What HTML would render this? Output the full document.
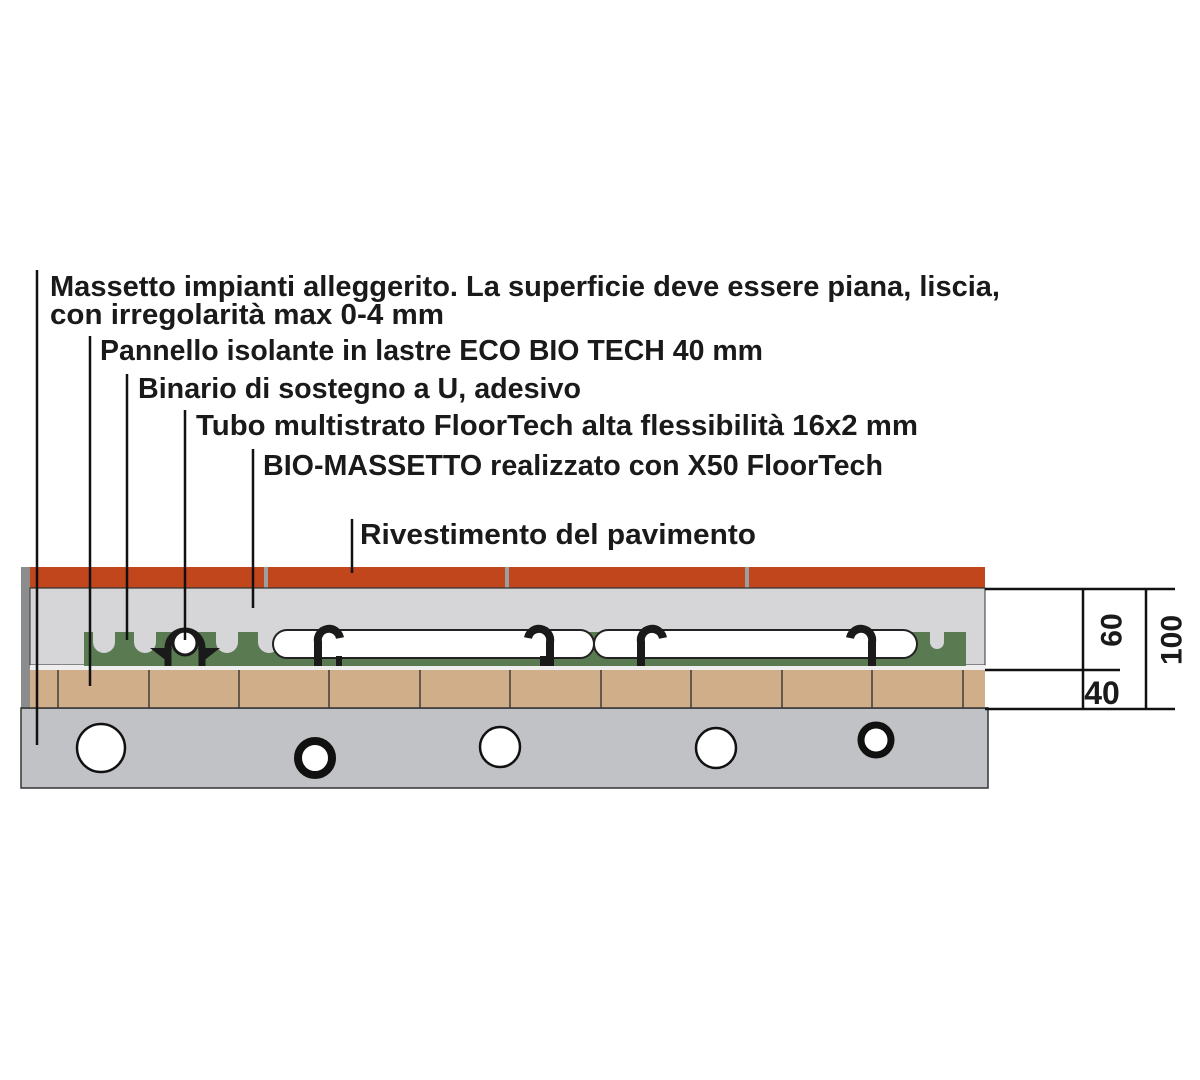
<!DOCTYPE html>
<html><head><meta charset="utf-8"><style>
html,body{margin:0;padding:0;background:#fff;width:1200px;height:1080px;overflow:hidden}
svg text{font-family:"Liberation Sans Narrow","Liberation Sans",sans-serif;font-weight:bold;fill:#1a1a1a}
</style></head><body>
<svg width="1200" height="1080" viewBox="0 0 1200 1080" xmlns="http://www.w3.org/2000/svg">
<rect x="21" y="708" width="967" height="80" fill="#c1c2c5" stroke="#333" stroke-width="1.5"/>
<rect x="21" y="567" width="9" height="141" fill="#8a8c8e"/>
<rect x="30" y="588" width="955" height="77" fill="#d6d6d8" stroke="#333" stroke-width="1"/>
<rect x="30" y="665" width="955" height="5" fill="#eeeeee"/>
<rect x="30" y="567" width="955" height="21" fill="#c2461c"/>
<g fill="#9a9fa3"><rect x="264" y="567" width="4" height="21"/><rect x="505" y="567" width="4" height="21"/><rect x="745" y="567" width="4" height="21"/></g>
<line x1="30" y1="588" x2="985" y2="588" stroke="#333" stroke-width="1.2"/>
<rect x="30" y="670" width="955" height="38" fill="#cfae89"/>
<g stroke="#2a2a2a" stroke-width="1.3">
<line x1="58" y1="670" x2="58" y2="708"/><line x1="149" y1="670" x2="149" y2="708"/><line x1="239" y1="670" x2="239" y2="708"/><line x1="329" y1="670" x2="329" y2="708"/><line x1="420" y1="670" x2="420" y2="708"/><line x1="510" y1="670" x2="510" y2="708"/><line x1="601" y1="670" x2="601" y2="708"/><line x1="691" y1="670" x2="691" y2="708"/><line x1="782" y1="670" x2="782" y2="708"/><line x1="872" y1="670" x2="872" y2="708"/><line x1="963" y1="670" x2="963" y2="708"/>
</g>
<line x1="21" y1="708" x2="988" y2="708" stroke="#333" stroke-width="1.5"/>
<rect x="84" y="632" width="882" height="34" fill="#5a7a52"/>
<g fill="#d6d6d8">
<path d="M93 632 h22 v10 a11 11 0 0 1 -22 0 z"/>
<path d="M134 632 h22 v10 a11 11 0 0 1 -22 0 z"/>
<path d="M216 632 h22 v10 a11 11 0 0 1 -22 0 z"/>
<path d="M258 632 h22 v10 a11 11 0 0 1 -22 0 z"/>
<path d="M930 632 h14 v10 a7 7 0 0 1 -14 0 z"/>
</g>
<g fill="#fff" stroke="#222" stroke-width="2">
<path d="M287 630 H580 A14 14 0 0 1 580 658 H287 A14 14 0 0 1 287 630 Z"/>
<path d="M608 630 H903 A14 14 0 0 1 903 658 H608 A14 14 0 0 1 608 630 Z"/>
</g>
<g fill="none" stroke="#1a1a1a" stroke-width="8">
<path d="M318 666 V642 a11 11 0 0 1 22 -4"/>
<path d="M528 638 a11 11 0 0 1 22 4 V666"/>
<path d="M641 666 V642 a11 11 0 0 1 22 -4"/>
<path d="M850 638 a11 11 0 0 1 22 4 V666"/>
</g>
<g fill="#1a1a1a"><rect x="336" y="656" width="6" height="10"/><rect x="540" y="656" width="6" height="10"/></g>
<path d="M168 666 V648 a17 17 0 0 1 34 0 V666" fill="none" stroke="#1a1a1a" stroke-width="7"/>
<path d="M150 648 L172 648 L168 662 Z M220 648 L198 648 L202 662 Z" fill="#1a1a1a"/>
<circle cx="185" cy="643" r="12" fill="#fff" stroke="#1a1a1a" stroke-width="3"/>
<circle cx="101" cy="748" r="24" fill="#fff" stroke="#111" stroke-width="2.5"/>
<circle cx="315" cy="758" r="17" fill="#fff" stroke="#111" stroke-width="8"/>
<circle cx="500" cy="747" r="20" fill="#fff" stroke="#111" stroke-width="2.5"/>
<circle cx="716" cy="748" r="20" fill="#fff" stroke="#111" stroke-width="2.5"/>
<circle cx="876" cy="740" r="15" fill="#fff" stroke="#111" stroke-width="7"/>
<g stroke="#111" stroke-width="2.5">
<line x1="985" y1="589" x2="1175" y2="589"/>
<line x1="985" y1="709" x2="1175" y2="709"/>
<line x1="985" y1="670" x2="1120" y2="670"/>
<line x1="1083" y1="589" x2="1083" y2="709"/>
<line x1="1146" y1="589" x2="1146" y2="709"/>
</g>
<text x="1112" y="630" font-size="30" text-anchor="middle" transform="rotate(-90 1112 630)" dominant-baseline="central">60</text>
<text x="1172" y="640" font-size="30" text-anchor="middle" transform="rotate(-90 1172 640)" dominant-baseline="central">100</text>
<text x="1102" y="704" font-size="32" text-anchor="middle">40</text>
<g stroke="#111" stroke-width="2.5">
<line x1="37" y1="270" x2="37" y2="745"/>
<line x1="90" y1="336" x2="90" y2="686"/>
<line x1="127" y1="374" x2="127" y2="640"/>
<line x1="185" y1="410" x2="185" y2="640"/>
<line x1="253" y1="449" x2="253" y2="608"/>
<line x1="352" y1="519" x2="352" y2="573"/>
</g>
<text x="50" y="296" font-size="29" textLength="950" lengthAdjust="spacingAndGlyphs">Massetto impianti alleggerito. La superficie deve essere piana, liscia,</text>
<text x="50" y="324" font-size="29" textLength="394" lengthAdjust="spacingAndGlyphs">con irregolarità max 0-4 mm</text>
<text x="100" y="360" font-size="29" textLength="663" lengthAdjust="spacingAndGlyphs">Pannello isolante in lastre ECO BIO TECH 40 mm</text>
<text x="138" y="398" font-size="29" textLength="443" lengthAdjust="spacingAndGlyphs">Binario di sostegno a U, adesivo</text>
<text x="196" y="435" font-size="29" textLength="722" lengthAdjust="spacingAndGlyphs">Tubo multistrato FloorTech alta flessibilità 16x2 mm</text>
<text x="263" y="475" font-size="29" textLength="620" lengthAdjust="spacingAndGlyphs">BIO-MASSETTO realizzato con X50 FloorTech</text>
<text x="360" y="544" font-size="29" textLength="396" lengthAdjust="spacingAndGlyphs">Rivestimento del pavimento</text>
</svg>
</body></html>
